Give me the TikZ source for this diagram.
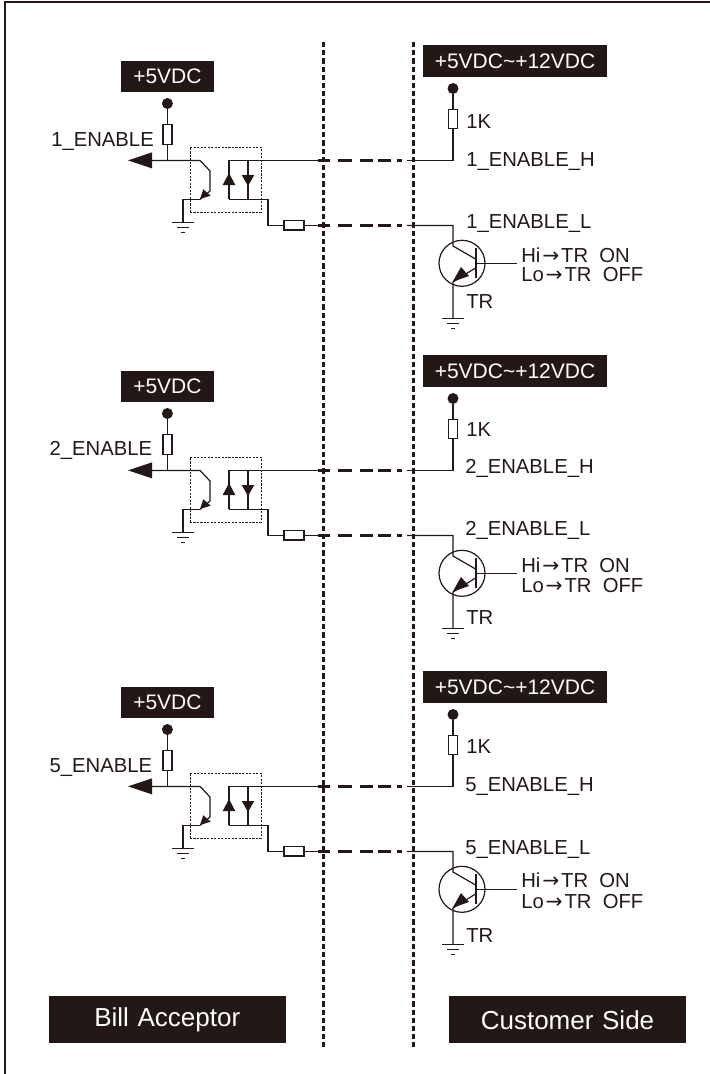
\documentclass[tikz,border=0pt]{standalone}
\usepackage{fontspec}
\setmainfont{Liberation Sans}
\newfontfamily\arrowfont{DejaVu Sans}
\newcommand{\harr}{\kern1.4pt{\arrowfont →}\kern1.4pt}
\definecolor{ink}{HTML}{231815}
\tikzset{
  wire/.style={draw=ink,line width=0.9pt},
  hbar/.style={draw=ink,line width=0.9pt},
  divider/.style={draw=ink,line width=2.2pt,dash pattern=on 3.9pt off 2.25pt},
  link/.style={draw=ink,line width=2.2pt,dash pattern=on 9pt off 6pt on 10.5pt off 6pt on 9.75pt off 3.75pt on 9.75pt off 4.5pt on 3.75pt off 100pt},
  optobox/.style={draw=ink,line width=0.75pt,dash pattern=on 1.6pt off 1pt,inner sep=0pt,minimum width=53.25pt,minimum height=48.75pt},
  resv/.style={draw=ink,fill=white,line width=0.9pt,inner sep=0pt,minimum width=6.75pt,minimum height=14.5pt},
  resh/.style={draw=ink,fill=white,line width=0.9pt,inner sep=0pt,minimum width=15pt,minimum height=7pt},
  term/.style={circle,fill=ink,inner sep=0pt,minimum size=8.25pt},
  blackbox/.style={fill=ink,text=white,inner sep=0pt,font=\fontsize{15.75pt}{18pt}\selectfont},
  bigbox/.style={fill=ink,text=white,inner sep=0pt,anchor=base,align=center,text width=177.4pt,font=\fontsize{19.5pt}{22pt}\selectfont},
  lab/.style={anchor=base west,inner sep=0pt,text=ink,font=\fontsize{15.2pt}{17pt}\selectfont},
  npn/.style={circle,draw=ink,line width=0.9pt,inner sep=0pt,minimum size=34.5pt},
}
\newcommand{\gndsym}[1]{
  \draw[hbar] ($(#1)+(-11,0)$) -- ($(#1)+(11,0)$);
  \draw[hbar] ($(#1)+(-6,5)$) -- ($(#1)+(6,5)$);
  \draw[hbar] ($(#1)+(-2,10)$) -- ($(#1)+(2,10)$);
}
\newcommand{\leftside}[2]{
\begin{scope}[shift={(0,#2)}]
  \node[blackbox,minimum width=69.75pt,minimum height=23.25pt] (#1v) at (167.4,76.5) {+5VDC};
  \node[term] (#1d) at (167.4,103.5) {};
  \node[resv] (#1r) at (167.4,134.5) {};
  \coordinate (#1j) at (167.4,160.4);
  \coordinate (#1a) at (152,160.4);
  \coordinate (#1c) at (200,160.4);
  \coordinate (#1c2) at (210,171);
  \coordinate (#1e1) at (210,191);
  \coordinate (#1e) at (200,199.4);
  \coordinate (#1g0) at (183,199.4);
  \coordinate (#1g) at (183,222.4);
  \coordinate (#1at) at (229,160.4);
  \coordinate (#1ab) at (229,199.4);
  \coordinate (#1ct) at (248,160.4);
  \coordinate (#1cb) at (248,199.4);
  \coordinate (#1o) at (268,199.4);
  \coordinate (#1o2) at (268,225.4);
  \node[resh] (#1rs) at (294,225.4) {};
  \coordinate (#1x1) at (318,160.4);
  \coordinate (#1x2) at (318,225.4);
  \node[optobox] (#1b) at (225.5,179.5) {};
  \draw[wire] (#1d) -- (#1r);
  \draw[wire] (#1r) -- (#1j);
  \draw[wire] (#1a) -- (#1c) -- (#1c2) -- (#1e1);
  \draw[wire] (#1e) -- (#1g0) -- (#1g);
  \draw[wire] (#1e1) -- (#1e);
  \draw[wire] (#1ab) -- (#1at) -- (#1x1);
  \draw[wire] (#1ct) -- (#1cb);
  \draw[wire] (#1ab) -- (#1o) -- (#1o2) -- (#1rs);
  \draw[wire] (#1rs) -- (#1x2);
  \fill[ink] (128,160.4) -- (152,152.4) -- (152,168.4) -- cycle;
  \fill[ink] (200,199) -- (203.3,189.3) -- (210.7,195.7) -- cycle;
  \fill[ink] (229,173) -- (222.7,185) -- (235.3,185) -- cycle;
  \fill[ink] (248,186) -- (241.7,175) -- (254.3,175) -- cycle;
  \gndsym{#1g}
\end{scope}
}
\newcommand{\rightside}[2]{
\begin{scope}[shift={(0,#2)}]
  \node[blackbox,minimum width=138pt,minimum height=23.75pt] (#1v) at (515,61.2) {+5VDC\char`~+12VDC};
  \node[term] (#1d) at (453,88.5) {};
  \node[resv] (#1r) at (453,119) {};
  \coordinate (#1h) at (453,160.4);
  \coordinate (#1y1) at (407,160.4);
  \coordinate (#1y2) at (407,225.4);
  \coordinate (#1l) at (453,225.4);
  \coordinate (#1cl) at (453,246);
  \coordinate (#1cb) at (475.5,259);
  \coordinate (#1eb) at (475.5,268);
  \coordinate (#1em) at (453,282);
  \coordinate (#1g) at (453,318.4);
  \coordinate (#1bt) at (476,248);
  \coordinate (#1bb) at (476,278);
  \coordinate (#1bs) at (476,263.4);
  \coordinate (#1bi) at (517,263.4);
  \node[npn] (#1q) at (462,263.3) {};
  \draw[wire] (#1d) -- (#1r);
  \draw[wire] (#1r) -- (#1h) -- (#1y1);
  \draw[wire] (#1y2) -- (#1l) -- (#1cl) -- (#1cb);
  \draw[wire] (#1bt) -- (#1bb);
  \draw[wire] (#1bs) -- (#1bi);
  \draw[wire] (#1eb) -- (#1em) -- (#1g);
  \fill[ink] (452.7,281.7) -- (461,267) -- (469,276) -- cycle;
  \gndsym{#1g}
\end{scope}
}
\newcommand{\crossing}[3]{
\begin{scope}[shift={(0,#3)}]
  \coordinate (#1s) at (318,#2);
  \coordinate (#1t) at (402,#2);
  \draw[link] (#1s) -- (#1t);
\end{scope}
}
\usetikzlibrary{calc}
\begin{document}
\begin{tikzpicture}[x=0.75pt,y=-0.75pt]
\useasboundingbox (0,0) rectangle (710,1074);
\coordinate (fa) at (5,1074);
\coordinate (fb) at (5,2);
\coordinate (fc) at (710,2);
\draw[draw=ink,line width=0.8pt] (fa) -- (fb) -- (fc);
\coordinate (da) at (323.4,42);
\coordinate (db) at (323.4,1047);
\coordinate (dc) at (413.4,42);
\coordinate (dd) at (413.4,1047);
\draw[divider] (da) -- (db);
\draw[divider] (dc) -- (dd);

\leftside{p}{0}
\leftside{q}{310}
\leftside{s}{626}
\rightside{t}{0}
\rightside{u}{310}
\rightside{w}{626}
\crossing{ha}{160.4}{0}
\crossing{la}{225.4}{0}
\crossing{hb}{160.4}{310}
\crossing{lb}{225.4}{310}
\crossing{hc}{160.4}{626}
\crossing{lc}{225.4}{626}

\node[lab] (n1) at (51,146) {1\_ENABLE};
\node[lab] (n2) at (49.3,455) {2\_ENABLE};
\node[lab] (n3) at (49.3,772.7) {5\_ENABLE};
\node[lab] (k1) at (466,128) {1K};
\node[lab] (h1) at (466,166.7) {1\_ENABLE\_H};
\node[lab] (l1) at (466,228.7) {1\_ENABLE\_L};
\node[lab] (r1) at (466,308) {TR};
\node[lab] (i1) at (521,262.7) {Hi\harr TR\ \ ON};
\node[lab] (o1) at (521,281.7) {Lo\harr TR\ \ OFF};
\node[lab] (k2) at (466,436) {1K};
\node[lab] (h2) at (465,473) {2\_ENABLE\_H};
\node[lab] (l2) at (465,535.7) {2\_ENABLE\_L};
\node[lab] (r2) at (466,624) {TR};
\node[lab] (i2) at (521,572) {Hi\harr TR\ \ ON};
\node[lab] (o2) at (521,592) {Lo\harr TR\ \ OFF};
\node[lab] (k3) at (466,753) {1K};
\node[lab] (h3) at (465,791) {5\_ENABLE\_H};
\node[lab] (l3) at (465,854.7) {5\_ENABLE\_L};
\node[lab] (r3) at (466,942) {TR};
\node[lab] (i3) at (521,887.7) {Hi\harr TR\ \ ON};
\node[lab] (o3) at (521,908) {Lo\harr TR\ \ OFF};
\node[bigbox,text height=23pt,text depth=12.2pt] (ba) at (167.25,1026.7) {Bill Acceptor};
\node[bigbox,text height=24.75pt,text depth=10.5pt] (cs) at (567.5,1029) {Customer Side};
\end{tikzpicture}
\end{document}
